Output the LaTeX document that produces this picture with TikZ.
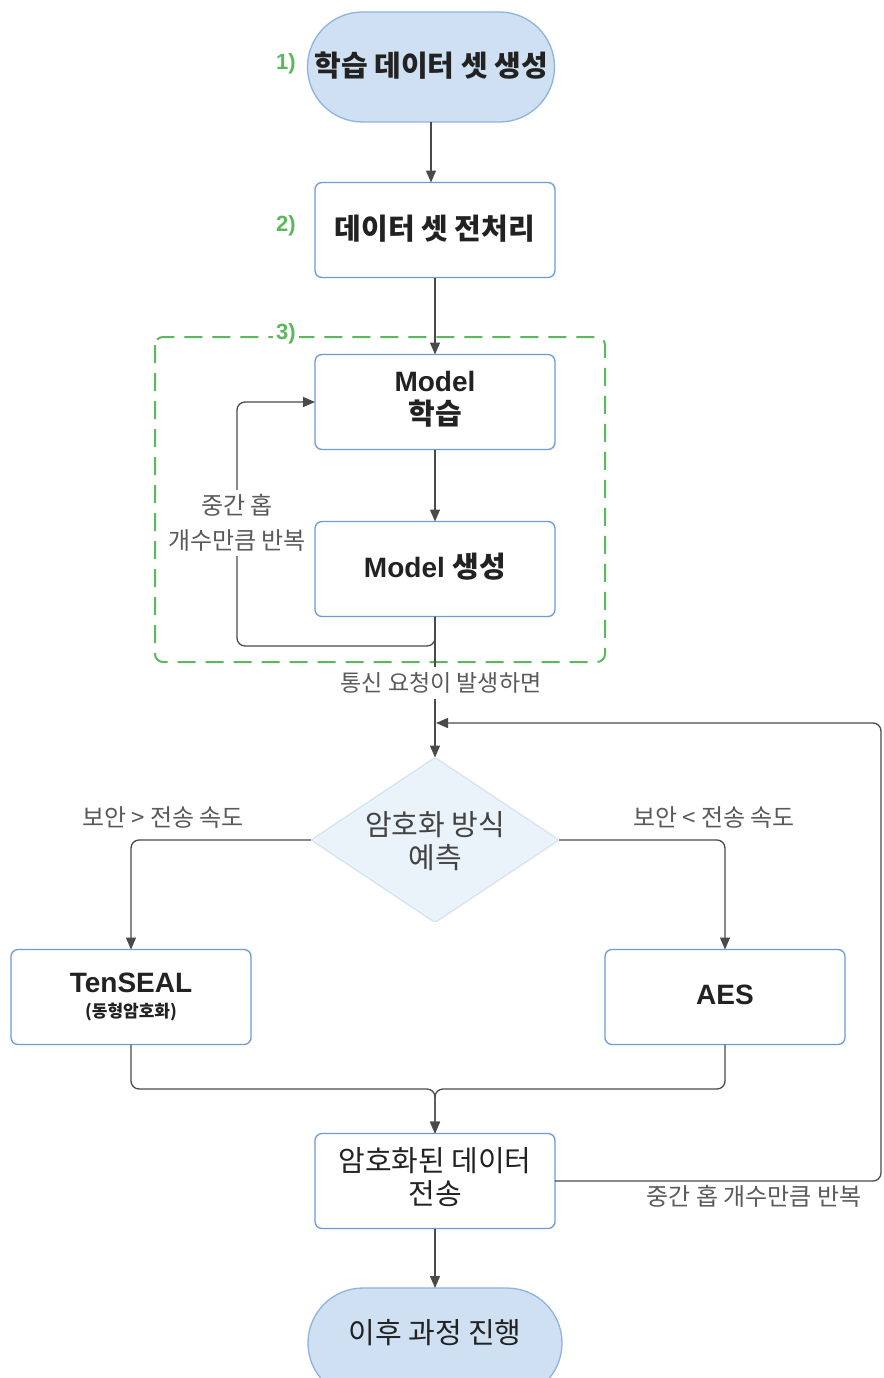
\documentclass[tikz,border=0pt]{standalone}
\usepackage{fontspec}
\setmainfont{Liberation Sans}
\newfontfamily\kr{Noto Sans CJK KR}
\usetikzlibrary{arrows.meta,shapes.geometric}

\definecolor{termfill}{HTML}{CFE0F2}
\definecolor{termdraw}{HTML}{8DB3E2}
\definecolor{boxdraw}{HTML}{6C9BD6}
\definecolor{diafill}{HTML}{EAF2FA}
\definecolor{diadraw}{HTML}{D3E3F4}
\definecolor{linecol}{HTML}{4A4A4A}
\definecolor{labelcol}{HTML}{5A5A5A}
\definecolor{stepgreen}{HTML}{5CB85C}
\definecolor{ink}{HTML}{222222}

\begin{document}
\begin{tikzpicture}[x=1pt,y=-1pt,
  every node/.style={inner sep=0pt, outer sep=0pt},
  term/.style={draw=termdraw, fill=termfill, line width=1.3pt,
    rounded corners=55pt, minimum width=247pt, minimum height=110pt},
  procbox/.style={draw=boxdraw, fill=white, line width=1.3pt,
    rounded corners=7pt, minimum width=240pt, minimum height=95pt},
  decision/.style={diamond, draw=diadraw, fill=diafill, line width=1.2pt,
    minimum width=248pt, minimum height=165pt, rounded corners=3pt},
  boldtxt/.style={text=ink, font=\kr\bfseries\fontsize{29}{33}\selectfont, align=center},
  plaintxt/.style={text=ink, font=\kr\fontsize{29}{33}\selectfont, align=center},
  latintxt/.style={text=ink, font=\bfseries\fontsize{28}{33}\selectfont, align=center},
  edgelabel/.style={text=labelcol, font=\kr\fontsize{24}{35}\selectfont, align=center},
  stepnum/.style={text=stepgreen, font=\bfseries\fontsize{22}{24}\selectfont},
  conn/.style={draw=linecol, line width=1.3pt},
  tip/.style={-{Triangle[length=12pt,width=10pt]}}
]
\useasboundingbox (0,0) rectangle (883,1378);
\clip (0,0) rectangle (883,1378);
\fill[white] (0,0) rectangle (883,1378);

% step 1: data set generation
\node[term] (start) at (431,67) {};
\node[boldtxt] (starttxt) at (431,66) {학습 데이터 셋 생성};
\node[stepnum] (n1) at (286,64) {1)};

% step 2: preprocessing
\node[procbox] (prep) at (435,230) {};
\node[boldtxt] (preptxt) at (435,229) {데이터 셋 전처리};
\node[stepnum] (n2) at (286,226) {2)};

% step 3: training loop group
\draw[stepgreen, line width=2pt, dash pattern=on 18pt off 10pt, rounded corners=8pt]
  (155,337) rectangle (605,662);
\node[stepnum, fill=white, inner xsep=3pt] (n3) at (286,334) {3)};

\node[procbox] (learn) at (435,402) {};
\node[latintxt] (learntxt1) at (435,381) {Model};
\node[boldtxt] (learntxt2) at (435,414) {학습};

\node[procbox] (gen) at (435,569) {};
\node[latintxt] (gentxt) at (435,567) {Model {\kr\fontsize{29}{33}\selectfont 생성}};

% decision
\node[decision] (dia) at (435,840) {};
\node[plaintxt, text=ink!85] (diatxt) at (435,841) {암호화 방식\\예측};

% encryption choices
\node[procbox] (ten) at (131,997) {};
\node[latintxt] (tentxt1) at (131,983) {TenSEAL};
\node[text=ink, font=\kr\bfseries\fontsize{17}{20}\selectfont] (tentxt2) at (131,1012) {(동형암호화)};

\node[procbox] (aes) at (725,997) {};
\node[latintxt] (aestxt) at (725,995) {AES};

% transmission
\node[procbox] (send) at (435,1181) {};
\node[plaintxt] (sendtxt) at (435,1177) {암호화된 데이터\\전송};

% final terminal
\node[term, minimum width=254pt] (finish) at (435,1343) {};
\node[plaintxt] (finishtxt) at (435,1333) {이후 과정 진행};

% helper points
\coordinate (loopL) at (237,646);
\coordinate (fbR) at (881,723);
\coordinate (mrg) at (435,1089);

% connectors
\draw[conn, tip] (start.south) -- (start.south |- prep.north);
\draw[conn, tip] (prep.south) -- (learn.north);
\draw[conn, tip] (learn.south) -- (gen.north);
\draw[conn, tip, rounded corners=8pt] (gen.south) |- (loopL) |- (learn.west);
\draw[conn, tip] (gen.south) -- (dia.north);
\draw[conn, tip, rounded corners=8pt] (send.east) -| (fbR) -- ([xshift=1pt]dia.north |- fbR);
\draw[conn, tip, rounded corners=8pt] (dia.west) -| (ten.north);
\draw[conn, tip, rounded corners=8pt] (dia.east) -| (aes.north);
\draw[conn, tip, rounded corners=8pt] (ten.south) |- (mrg) -- (send.north);
\draw[conn, tip, rounded corners=8pt] (aes.south) |- (mrg) -- (send.north);
\draw[conn, tip] (send.south) -- (finish.north);

% connector labels
\node[edgelabel, fill=white, inner ysep=4pt] (looplbl) at (237,523) {중간 홉\\개수만큼 반복};
\node[edgelabel, fill=white, inner ysep=6pt, font=\kr\fontsize{23}{30}\selectfont] (reqlbl) at (441,683) {통신 요청이 발생하면};
\node[edgelabel] (leftlbl) at (163,818) {보안 > 전송 속도};
\node[edgelabel] (rightlbl) at (714,818) {보안 < 전송 속도};
\node[edgelabel] (fblbl) at (754,1196) {중간 홉 개수만큼 반복};
\end{tikzpicture}
\end{document}
